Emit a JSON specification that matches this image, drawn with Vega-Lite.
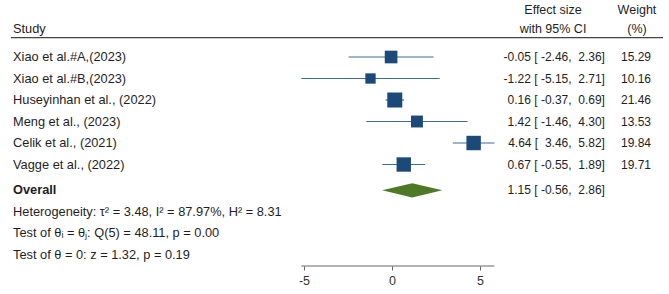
{
  "$schema": "https://vega.github.io/schema/vega-lite/v6.json",
  "width": 669,
  "height": 266,
  "autosize": {"type": "none"},
  "padding": {"left": 0, "top": 0, "right": 0, "bottom": 28},
  "background": "white",
  "config": {
    "view": {"stroke": null},
    "font": "Liberation Sans",
    "text": {"font": "Liberation Sans", "fontSize": 12, "color": "#1e1e1e"},
    "axisX": {"domain": false, "grid": false, "ticks": true, "tickSize": 4, "tickColor": "#666666", "labelFontSize": 12.5, "labelColor": "#333333", "labelFont": "Liberation Sans", "labelPadding": 4, "labelExpr": "'' + datum.value"}
  },
  "datasets": {
    "studies": [
      {"study": "Xiao et al.#A,(2023)", "row": 1, "es": -0.05, "lo": -2.46, "hi": 2.36, "weight": 15.29, "ci": "-0.05 [ -2.46, \u00a02.36]", "wt": "15.29"},
      {"study": "Xiao et al.#B,(2023)", "row": 2, "es": -1.22, "lo": -5.15, "hi": 2.71, "weight": 10.16, "ci": "-1.22 [ -5.15, \u00a02.71]", "wt": "10.16"},
      {"study": "Huseyinhan et al., (2022)", "row": 3, "es": 0.16, "lo": -0.37, "hi": 0.69, "weight": 21.46, "ci": "0.16 [ -0.37, \u00a00.69]", "wt": "21.46"},
      {"study": "Meng et al., (2023)", "row": 4, "es": 1.42, "lo": -1.46, "hi": 4.30, "weight": 13.53, "ci": "1.42 [ -1.46, \u00a04.30]", "wt": "13.53"},
      {"study": "Celik et al., (2021)", "row": 5, "es": 4.64, "lo": 3.46, "hi": 5.82, "weight": 19.84, "ci": "4.64 [\u00a0 3.46, \u00a05.82]", "wt": "19.84"},
      {"study": "Vagge et al., (2022)", "row": 6, "es": 0.67, "lo": -0.55, "hi": 1.89, "weight": 19.71, "ci": "0.67 [ -0.55, \u00a01.89]", "wt": "19.71"}
    ],
    "overall": [
      {"study": "Overall", "row": 7.2, "es": 1.15, "lo": -0.56, "hi": 2.86, "ci": "1.15 [ -0.56, \u00a02.86]"}
    ],
    "diamond": [
      {"x": -0.56, "top": 7.2, "bottom": 7.2},
      {"x": 1.15, "top": 6.87, "bottom": 7.53},
      {"x": 2.86, "top": 7.2, "bottom": 7.2}
    ],
    "notes": [
      {"label": "Heterogeneity: τ² = 3.48, I² = 87.97%, H² = 8.31", "row": 8.2},
      {"label": "Test of θᵢ = θⱼ: Q(5) = 48.11, p = 0.00", "row": 9.2},
      {"label": "Test of θ = 0: z = 1.32, p = 0.19", "row": 10.2}
    ],
    "headers": [
      {"label": "Effect size", "col": 9.15, "row": -1.19},
      {"label": "with 95% CI", "col": 9.15, "row": -0.3},
      {"label": "Weight", "col": 13.92, "row": -1.19},
      {"label": "(%)", "col": 13.92, "row": -0.3}
    ],
    "lines": [
      {"x1": -21.65, "x2": 15.4, "row": 0.1}
    ],
    "axisline": [
      {"x1": -5.15, "x2": 5.82, "row": 10.72}
    ]
  },
  "layer": [
    {
      "data": {"name": "axisline"},
      "mark": {"type": "rule", "color": "#666666", "strokeWidth": 1.2},
      "encoding": {
        "x": {"field": "x1", "type": "quantitative", "scale": {"domain": [-22.27, 15.74], "nice": false, "zero": false}, "axis": {"values": [-5, 0, 5], "title": null}},
        "x2": {"field": "x2"},
        "y": {"field": "row", "type": "quantitative", "scale": {"domain": [-1.651, 10.72], "reverse": true, "nice": false, "zero": false}, "axis": null}
      }
    },
    {
      "data": {"name": "lines"},
      "mark": {"type": "rule", "color": "#444444", "strokeWidth": 1.4},
      "encoding": {
        "x": {"field": "x1", "type": "quantitative", "axis": {"values": [-5, 0, 5], "title": null}},
        "x2": {"field": "x2"},
        "y": {"field": "row", "type": "quantitative", "axis": null}
      }
    },
    {
      "data": {"name": "studies"},
      "mark": {"type": "rule", "color": "#3f6b8f", "strokeWidth": 1.2},
      "encoding": {
        "x": {"field": "lo", "type": "quantitative", "axis": {"values": [-5, 0, 5], "title": null}},
        "x2": {"field": "hi"},
        "y": {"field": "row", "type": "quantitative", "axis": null}
      }
    },
    {
      "data": {"name": "studies"},
      "mark": {"type": "point", "shape": "square", "filled": true, "opacity": 1, "color": "#1b4a78"},
      "encoding": {
        "x": {"field": "es", "type": "quantitative", "axis": {"values": [-5, 0, 5], "title": null}},
        "y": {"field": "row", "type": "quantitative", "axis": null},
        "size": {"field": "weight", "type": "quantitative", "scale": {"domain": [0, 21.46], "range": [0, 225], "zero": true}, "legend": null}
      }
    },
    {
      "data": {"name": "diamond"},
      "mark": {"type": "area", "color": "#4e7a27", "opacity": 1},
      "encoding": {
        "x": {"field": "x", "type": "quantitative", "axis": {"values": [-5, 0, 5], "title": null}},
        "y": {"field": "top", "type": "quantitative", "axis": null},
        "y2": {"field": "bottom"}
      }
    },
    {
      "data": {"name": "studies"},
      "mark": {"type": "text", "align": "left", "baseline": "middle", "fontSize": 12.8},
      "encoding": {
        "x": {"datum": -21.53, "type": "quantitative", "axis": {"values": [-5, 0, 5], "title": null}},
        "y": {"field": "row", "type": "quantitative", "axis": null},
        "text": {"field": "study"}
      }
    },
    {
      "data": {"name": "studies"},
      "mark": {"type": "text", "align": "right", "baseline": "middle"},
      "encoding": {
        "x": {"datum": 12.1, "type": "quantitative", "axis": {"values": [-5, 0, 5], "title": null}},
        "y": {"field": "row", "type": "quantitative", "axis": null},
        "text": {"field": "ci"}
      }
    },
    {
      "data": {"name": "studies"},
      "mark": {"type": "text", "align": "right", "baseline": "middle"},
      "encoding": {
        "x": {"datum": 14.72, "type": "quantitative", "axis": {"values": [-5, 0, 5], "title": null}},
        "y": {"field": "row", "type": "quantitative", "axis": null},
        "text": {"field": "wt"}
      }
    },
    {
      "data": {"name": "overall"},
      "mark": {"type": "text", "align": "left", "baseline": "middle", "fontWeight": "bold", "fontSize": 12.8},
      "encoding": {
        "x": {"datum": -21.53, "type": "quantitative", "axis": {"values": [-5, 0, 5], "title": null}},
        "y": {"field": "row", "type": "quantitative", "axis": null},
        "text": {"field": "study"}
      }
    },
    {
      "data": {"name": "overall"},
      "mark": {"type": "text", "align": "right", "baseline": "middle"},
      "encoding": {
        "x": {"datum": 12.1, "type": "quantitative", "axis": {"values": [-5, 0, 5], "title": null}},
        "y": {"field": "row", "type": "quantitative", "axis": null},
        "text": {"field": "ci"}
      }
    },
    {
      "data": {"name": "notes"},
      "mark": {"type": "text", "align": "left", "baseline": "middle", "fontSize": 12.8},
      "encoding": {
        "x": {"datum": -21.53, "type": "quantitative", "axis": {"values": [-5, 0, 5], "title": null}},
        "y": {"field": "row", "type": "quantitative", "axis": null},
        "text": {"field": "label"}
      }
    },
    {
      "data": {"name": "headers"},
      "mark": {"type": "text", "align": "center", "baseline": "middle", "fontSize": 12.5},
      "encoding": {
        "x": {"field": "col", "type": "quantitative", "axis": {"values": [-5, 0, 5], "title": null}},
        "y": {"field": "row", "type": "quantitative", "axis": null},
        "text": {"field": "label"}
      }
    },
    {
      "data": {"values": [{"label": "Study", "row": -0.3}]},
      "mark": {"type": "text", "align": "left", "baseline": "middle", "fontSize": 12.8},
      "encoding": {
        "x": {"datum": -21.53, "type": "quantitative", "axis": {"values": [-5, 0, 5], "title": null}},
        "y": {"field": "row", "type": "quantitative", "axis": null},
        "text": {"field": "label"}
      }
    }
  ]
}
